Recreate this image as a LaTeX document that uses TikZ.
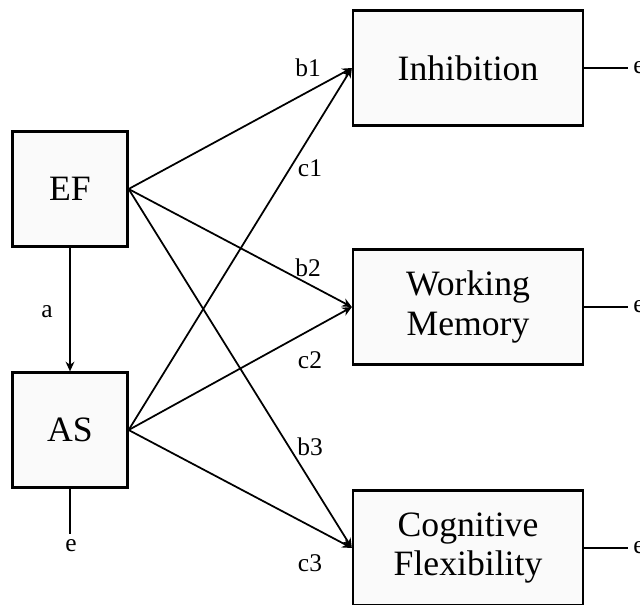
\documentclass[tikz,border=0pt]{standalone}
\usepackage{fontspec}
\setmainfont{Liberation Serif}
\usetikzlibrary{arrows.meta,positioning}
\tikzset{
  var/.style={draw, line width=1.3pt, fill=black!2, minimum width=2.3cm, minimum height=2.3cm,
    inner sep=0pt, align=center, font=\fontsize{20.3}{22.5}\selectfont},
  outcome/.style={var, minimum width=4.6cm},
  effect/.style={line width=1pt, -{Stealth[length=5.5pt,width=5pt]}},
  resid/.style={line width=1.1pt},
  lbl/.style={inner sep=0pt, font=\fontsize{14.5}{16}\selectfont},
}

\begin{document}
\begin{tikzpicture}[x=0.02cm, y=-0.02cm]
\useasboundingbox (0,0) rectangle (640,605);
\clip (0,0) rectangle (640,605);
% predictors
\node[var] (ef) at (70,189) {EF};
\node[var] (as) at (70,430) {AS};
% outcomes
\node[outcome] (inh) at (468,68) {Inhibition};
\node[outcome] (wm) at (468,307) {Working\\Memory};
\node[outcome] (cf) at (468,548) {Cognitive\\Flexibility};
% paths
\draw[effect] (ef) -- (as);
\foreach \src/\dst in {ef/inh,ef/wm,ef/cf,as/inh,as/wm,as/cf}{
  \draw[effect] (\src.east) -- (\dst.west);
}
\node[lbl] (la) at (47,312) {a};
\foreach \name/\x/\y in {b1/308/68,c1/310/168,b2/308/268,c2/310/360,b3/310/447,c3/310/563}{
  \node[lbl] (l\name) at (\x,\y) {\name};
}
% errors
\coordinate (as-e) at ([yshift=-0.9cm]as.south);
\draw[resid] (as) -- (as-e);
\node[lbl] (as-et) at (71,546) {e};
\foreach \n in {inh,wm,cf}{
  \coordinate (\n-e) at ([xshift=0.88cm]\n.east);
  \draw[resid] (\n) -- (\n-e);
  \node[lbl, anchor=west] (\n-et) at ([xshift=0.1cm]\n-e) {e};
}
\end{tikzpicture}
\end{document}
